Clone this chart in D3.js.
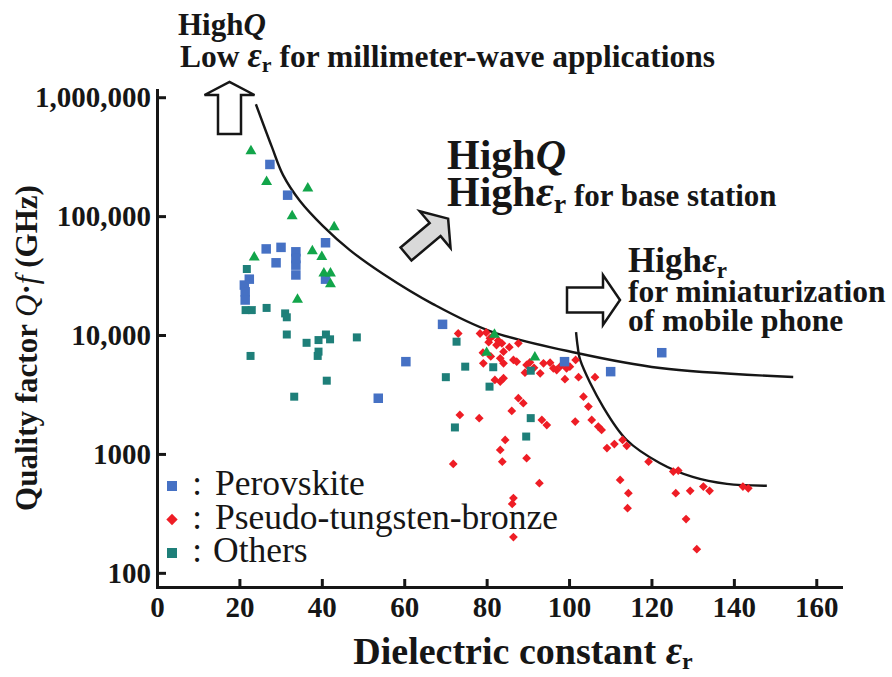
<!DOCTYPE html>
<html>
<head>
<meta charset="utf-8">
<script src="https://cdn.jsdelivr.net/npm/d3@7"></script>
<style>
  body { margin: 0; background: #fff; }
</style>
</head>
<body>
<svg id="chart" width="892" height="677"></svg>
<script>
// values: [dielectric constant, Q·f in GHz]
const xTicks = [0, 20, 40, 60, 80, 100, 120, 140, 160];
const yTicks = [100, 1000, 10000, 100000, 1000000];
const yTickLabels = ['100', '1000', '10,000', '100,000', '1,000,000'];

const perovskite = [
  [27.4, 272000], [31.7, 150000], [40.9, 59700], [26.5, 53000], [30.1, 54600],
  [33.7, 50100], [28.9, 40500], [33.7, 38700], [33.7, 44000], [33.7, 32000],
  [40.9, 29500], [22.4, 29500], [21.2, 26300], [21.4, 23100], [21.4, 19700],
  [69.3, 12300], [60.4, 5970], [53.7, 2940], [98.9, 5970], [110.1, 4920], [122.5, 7100],
];

const tungstenBronze = [
  [73.1, 10300], [78.4, 10300], [79.9, 10500], [80.8, 9380], [82.4, 8240], [83.7, 8510],
  [84.1, 7250], [87.7, 8510], [79.1, 7100], [79.2, 5780], [83.3, 6370], [84.1, 5780],
  [86.5, 6170], [87.3, 5970], [89.7, 5600], [89.3, 4820], [93.8, 5780], [95.4, 5850],
  [96.2, 5250], [97.0, 5080], [93.0, 4760], [100.2, 5420], [101.6, 6170], [99.4, 5250],
  [99.0, 4250], [102.3, 4420], [106.3, 4420], [82.0, 4190], [84.1, 4330], [83.3, 4060],
  [87.7, 2940], [88.9, 2670], [86.1, 2300], [73.5, 2130], [78.2, 2000], [93.4, 1930],
  [94.6, 1750], [101.5, 1870], [103.5, 3030], [104.7, 2500], [105.5, 1930], [107.1, 1700],
  [107.9, 1590], [84.5, 1310], [83.3, 1080], [83.8, 861], [89.7, 920], [71.9, 824],
  [109.2, 1120], [111.0, 1210], [114.0, 1170], [113.0, 1310], [92.8, 568], [86.5, 425],
  [86.2, 380], [86.5, 200], [112.4, 605], [114.4, 468], [114.2, 350], [119.3, 861],
  [125.3, 710], [126.5, 724], [125.9, 468], [129.4, 489], [132.6, 531], [134.1, 489],
  [128.4, 283], [131.0, 158], [142.2, 531], [143.5, 514], [81.5, 9800], [82.8, 9000],
  [80.5, 8700], [85.5, 7900], [81.0, 6600], [90.5, 5900], [91.5, 5300], [98.0, 5500],
];

const others = [
  [21.8, 35900], [21.5, 16200], [23.0, 16200], [26.6, 16900], [31.1, 15200], [31.5, 14100],
  [31.5, 10100], [22.7, 6670], [36.3, 8600], [39.2, 9070], [41.0, 10100], [42.0, 9200],
  [39.2, 7250], [39.0, 6670], [48.5, 9550], [41.2, 4130], [33.3, 3030], [72.7, 8790],
  [74.8, 5420], [70.1, 4420], [81.6, 5360], [80.7, 3680], [90.7, 5010], [72.3, 1670],
  [90.7, 2000], [89.6, 1400],
];

// green triangles, not in the legend
const unlabelled = [
  [22.8, 352000], [26.6, 194000], [36.6, 171000], [32.8, 100000], [43.0, 81000],
  [37.7, 50800], [23.6, 45000], [40.0, 45500], [42.1, 33000], [40.5, 33000],
  [42.1, 26800], [34.1, 19900], [81.9, 10100], [80.0, 7100], [91.7, 6500],
];

const boundaryLow = [
  [24.0, 873000], [27.9, 380000], [30.6, 221000], [34.7, 134000], [40.3, 82400],
  [46.8, 51800], [54.9, 32600], [67.0, 18200], [80.8, 10800], [101.9, 7060],
  [122.1, 5280], [154.4, 4440],
];
const boundaryHigh = [
  [101.7, 10600], [102.1, 8000], [102.7, 6170], [108.3, 2480], [114, 1310],
  [122, 840], [130, 641], [138.3, 560], [148, 540],
];

const legendItems = [
  { label: 'Perovskite', colon: ':', color: '#4671c4', shape: 'square' },
  { label: 'Pseudo-tungsten-bronze', colon: ':', color: '#ee1d25', shape: 'diamond' },
  { label: 'Others', colon: ':', color: '#1e7f79', shape: 'square' },
];

const FONT = 'Liberation Serif';
const INK = '#161616';

const svg = d3.select('#chart').style('font-family', FONT);
const x = d3.scaleLinear().domain([0, 166]).range([157, 841]);
const y = d3.scaleLog().domain([76, 1150000]).range([587, 90]);

// axes
const yAxis = svg.append('g')
  .attr('transform', `translate(${x(0)},0)`)
  .call(d3.axisLeft(y).tickValues(yTicks).tickFormat((d, i) => yTickLabels[i])
    .tickSizeInner(-9).tickSizeOuter(0).tickPadding(6));
const xAxis = svg.append('g')
  .attr('transform', `translate(0,${y.range()[0]})`)
  .call(d3.axisBottom(x).tickValues(xTicks).tickSizeInner(-8).tickSizeOuter(0).tickPadding(9));

for (const axis of [xAxis, yAxis]) {
  axis.attr('font-family', FONT).attr('font-size', null);
  axis.select('.domain').attr('stroke', INK).attr('stroke-width', 3).attr('stroke-linecap', 'square');
  axis.selectAll('.tick line').attr('stroke', INK).attr('stroke-width', 3);
  axis.selectAll('.tick text').attr('fill', INK).attr('font-size', 29).attr('font-weight', 'bold')
    .style('font-family', FONT);
}

// boundary curves
const line = d3.line().x((d) => x(d[0])).y((d) => y(d[1])).curve(d3.curveCatmullRom.alpha(0.5));
svg.append('g').attr('fill', 'none').attr('stroke', INK).attr('stroke-width', 2.4)
  .selectAll('path').data([boundaryLow, boundaryHigh]).join('path').attr('d', line);

// points
const squareSym = (s) => d3.symbol().type(d3.symbolSquare).size(s * s)();
svg.append('g').selectAll('path').data(tungstenBronze).join('path')
  .attr('d', squareSym(6.2))
  .attr('transform', (d) => `translate(${x(d[0])},${y(d[1])}) rotate(45)`)
  .attr('fill', legendItems[1].color);
svg.append('g').selectAll('path').data(others).join('path')
  .attr('d', squareSym(8))
  .attr('transform', (d) => `translate(${x(d[0])},${y(d[1])})`)
  .attr('fill', legendItems[2].color);
svg.append('g').selectAll('path').data(perovskite).join('path')
  .attr('d', squareSym(9.5))
  .attr('transform', (d) => `translate(${x(d[0])},${y(d[1])})`)
  .attr('fill', legendItems[0].color);
svg.append('g').selectAll('path').data(unlabelled).join('path')
  .attr('d', d3.symbol().type(d3.symbolTriangle).size(52)())
  .attr('transform', (d) => `translate(${x(d[0])},${y(d[1])})`)
  .attr('fill', '#12a54a');

// axis titles
const xTitle = svg.append('text').attr('x', 523).attr('y', 664).attr('text-anchor', 'middle')
  .attr('font-size', 38).attr('font-weight', 'bold').attr('fill', INK).style('font-family', FONT);
xTitle.append('tspan').text('Dielectric constant ');
xTitle.append('tspan').attr('font-style', 'italic').attr('font-size', 40).text('ε');
xTitle.append('tspan').attr('font-size', 24).attr('dy', 5).text('r');

const yTitle = svg.append('text').attr('transform', 'translate(37,348) rotate(-90)')
  .attr('text-anchor', 'middle').attr('font-size', 31).attr('font-weight', 'bold').attr('fill', INK)
  .style('font-family', FONT);
yTitle.append('tspan').text('Quality factor ');
yTitle.append('tspan').attr('font-style', 'italic').attr('font-weight', 'normal').text('Q');
yTitle.append('tspan').text('·');
yTitle.append('tspan').attr('font-style', 'italic').attr('font-weight', 'normal').text('f');
yTitle.append('tspan').text(' (GHz)');

// annotations
function epsR(text, size, subSize, shift) {
  text.append('tspan').attr('font-style', 'italic').attr('font-size', size).text('ε');
  text.append('tspan').attr('font-size', subSize).attr('dy', shift).text('r');
}

const ann = svg.append('g').attr('font-weight', 'bold').attr('fill', INK).style('font-family', FONT);

let t = ann.append('text').attr('x', 178).attr('y', 35).attr('font-size', 31);
t.append('tspan').text('High');
t.append('tspan').attr('font-style', 'italic').text('Q');
t = ann.append('text').attr('x', 180).attr('y', 67).attr('font-size', 31.5);
t.append('tspan').text('Low ');
epsR(t, 35, 22, 5);
t.append('tspan').attr('dy', -5).text(' for millimeter-wave applications');

t = ann.append('text').attr('x', 447).attr('y', 169).attr('font-size', 42);
t.append('tspan').text('High');
t.append('tspan').attr('font-style', 'italic').text('Q');
t = ann.append('text').attr('x', 447).attr('y', 206).attr('font-size', 42);
t.append('tspan').text('High');
epsR(t, 44, 28, 7);
t.append('tspan').attr('dy', -7).attr('font-size', 31).text(' for base station');

t = ann.append('text').attr('x', 628).attr('y', 272).attr('font-size', 35);
t.append('tspan').text('High');
epsR(t, 36, 23, 6);
ann.append('text').attr('x', 628).attr('y', 302).attr('font-size', 31.5).text('for miniaturization');
ann.append('text').attr('x', 628).attr('y', 331).attr('font-size', 31.5).text('of mobile phone');

// block arrows, drawn along +x and then placed
function blockArrow(len, shaft, headW, headL) {
  const s = shaft / 2;
  const h = headW / 2;
  return `M0,${-s}L${len - headL},${-s}L${len - headL},${-h}L${len},0L${len - headL},${h}L${len - headL},${s}L0,${s}Z`;
}
svg.append('path').attr('d', blockArrow(52, 23, 50, 13))
  .attr('transform', 'translate(229.5,134) rotate(-90)')
  .attr('fill', '#fff').attr('stroke', INK).attr('stroke-width', 2.5);
svg.append('path').attr('d', blockArrow(55, 17, 48, 17))
  .attr('transform', 'translate(406,254) rotate(-40)')
  .attr('fill', '#d9d9d9').attr('stroke', INK).attr('stroke-width', 2.5);
svg.append('path').attr('d', blockArrow(53, 25, 50, 17))
  .attr('transform', 'translate(567,300)')
  .attr('fill', '#fff').attr('stroke', INK).attr('stroke-width', 2.5);

// legend
const legend = svg.append('g').attr('transform', 'translate(172,486)').style('font-family', FONT);
const rows = legend.selectAll('g').data(legendItems).join('g')
  .attr('transform', (d, i) => `translate(0,${i * 33.5})`);
rows.append('path')
  .attr('d', (d) => squareSym(d.shape === 'diamond' ? 8 : 10))
  .attr('transform', (d) => (d.shape === 'diamond' ? 'rotate(45)' : null))
  .attr('fill', (d) => d.color);
rows.append('text').attr('x', 25).attr('y', 9).attr('text-anchor', 'middle')
  .attr('font-size', 35).attr('fill', INK).text((d) => d.colon);
rows.append('text').attr('x', (d, i) => (i === 2 ? 41 : 43)).attr('y', 9)
  .attr('font-size', 35.5).attr('fill', INK).text((d) => d.label);
</script>
</body>
</html>
